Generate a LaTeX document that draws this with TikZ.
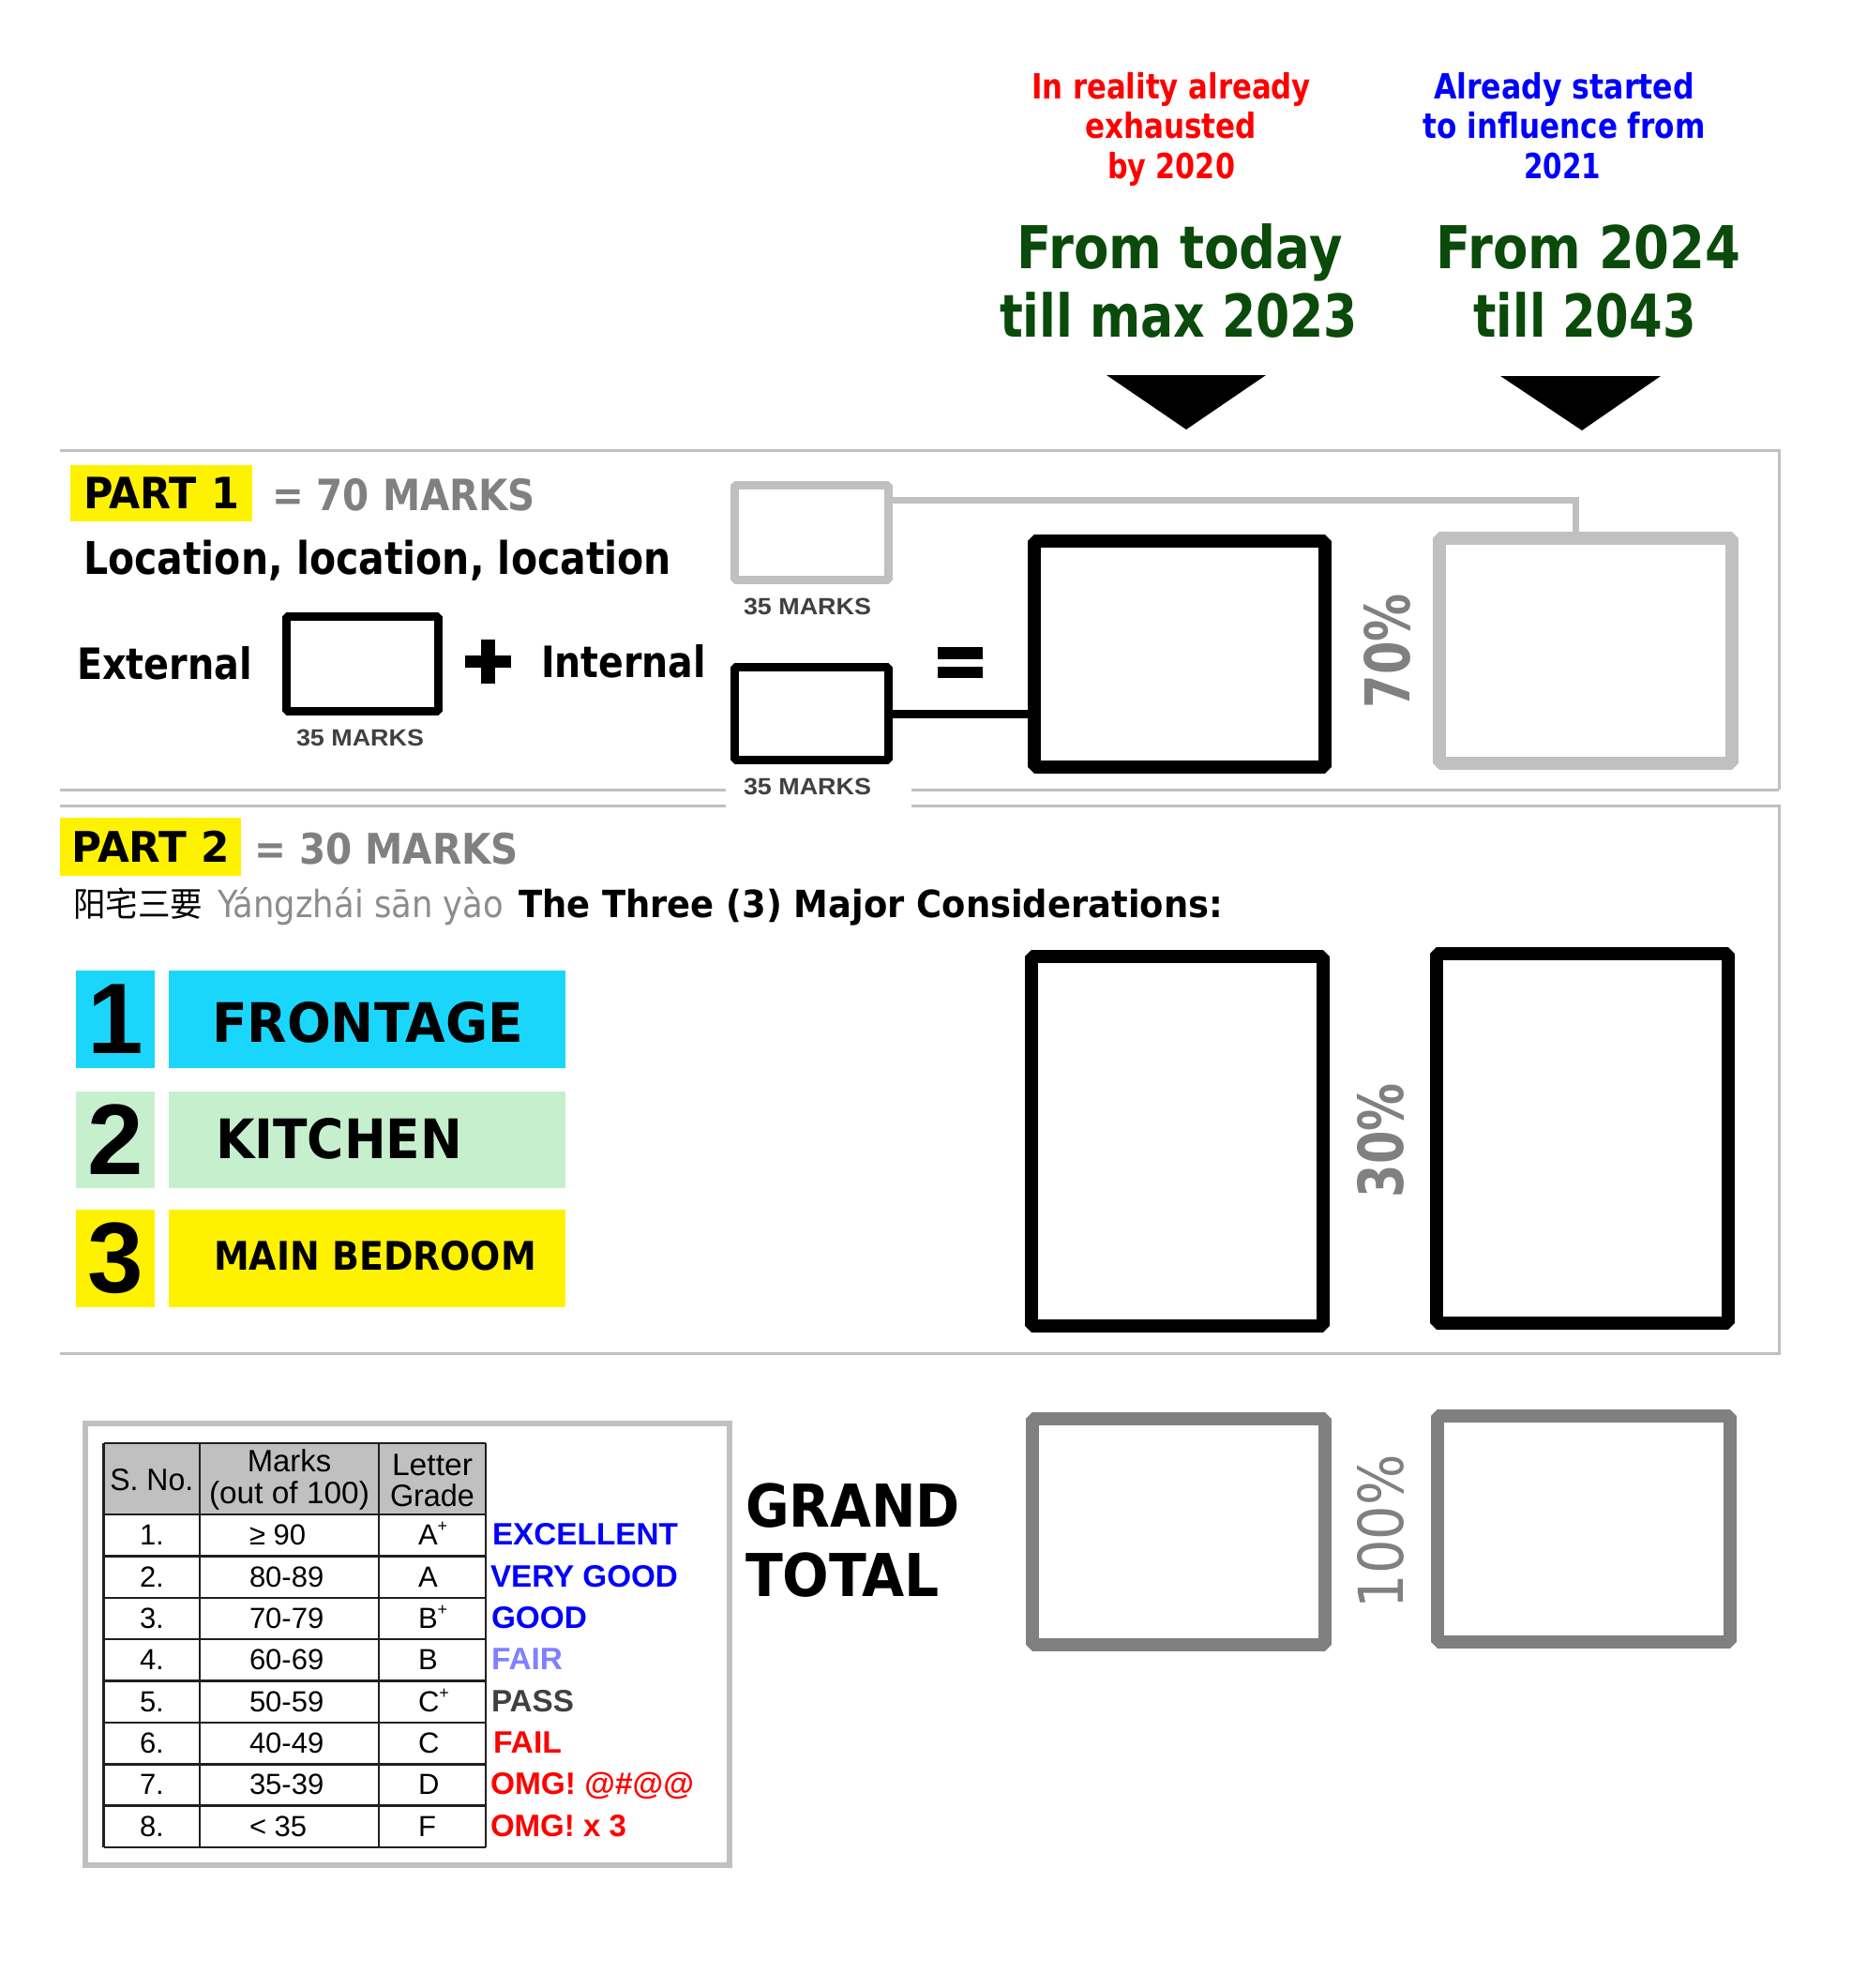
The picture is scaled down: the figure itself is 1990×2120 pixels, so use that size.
\documentclass[tikz,border=0pt]{standalone}
\usepackage{fontspec}
\usepackage{graphicx}
\setmainfont{Liberation Sans}
\newfontfamily\tah{DejaVu Sans}
\newfontfamily\ari{Liberation Sans}
\newfontfamily\cjk{Noto Sans CJK SC}
\newcommand\fs[1]{\fontsize{#1}{#1}\selectfont}
\newsavebox\fitsave
\newcommand\fitw[2]{\sbox\fitsave{#2}\edef\fitwd{\the\wd\fitsave}\pgfmathsetmacro\fitratio{#1/\fitwd}\scalebox{\fitratio}[1]{\usebox\fitsave}}
\newcommand\gradeplus{\raisebox{0.45em}{\fs{18}+}}
\definecolor{panelgray}{HTML}{C0C0C0}
\definecolor{midgray}{HTML}{808080}
\definecolor{darkgrayfour}{HTML}{404040}
\definecolor{dgreen}{HTML}{0A4A0A}
\definecolor{cyanbar}{HTML}{1AD6FC}
\definecolor{lgreen}{HTML}{C6EFCE}
\definecolor{fairblue}{HTML}{8080FF}
\definecolor{pinyin}{HTML}{8C8C8C}
\definecolor{gradeblue}{HTML}{0000FF}
\begin{document}
\begin{tikzpicture}[x=1pt,y=-1pt,
  t/.style={inner sep=0pt,outer sep=0pt},
  panel/.style={draw=panelgray,line width=3pt},
  bx/.style={draw,rectangle,inner sep=0pt,outer sep=0pt,line join=bevel},
  thinbx/.style={bx,line width=9pt},
  bigbx/.style={bx,line width=14pt},
  hl/.style={rectangle,inner sep=0pt,outer sep=0pt},
  gridln/.style={draw=black!88,line width=2.5pt},
  cell/.style={t,anchor=base west,font=\ari\fs{31}},
  hdr/.style={t,anchor=base,font=\ari\fs{33}},
  lbl/.style={t,anchor=base west,font=\ari\bfseries\fs{33}},
  marks/.style={t,anchor=base,text=darkgrayfour},
  pct/.style={t,rotate=90,text=midgray},
]
\useasboundingbox (0,0) rectangle (1990,2120);
\fill[white] (0,0) rectangle (1990,2120);

% ---------- top annotations ----------
\node[t,anchor=base,text=red] (red1) at (1249,105) {\tah\bfseries\fs{37}\fitw{298}{In reality already}};
\node[t,anchor=base,text=red] (red2) at (1248.5,147) {\tah\bfseries\fs{37}\fitw{183}{exhausted}};
\node[t,anchor=base,text=red] (red3) at (1249,190) {\tah\bfseries\fs{37}\fitw{136}{by 2020}};
\node[t,anchor=base,text=gradeblue] (blue1) at (1668,105) {\tah\bfseries\fs{37}\fitw{278}{Already started}};
\node[t,anchor=base,text=gradeblue] (blue2) at (1668,147) {\tah\bfseries\fs{37}\fitw{301}{to influence from}};
\node[t,anchor=base,text=gradeblue] (blue3) at (1666,190) {\tah\bfseries\fs{37}\fitw{82}{2021}};
\node[t,anchor=base,text=dgreen] (g1) at (1258,286) {\tah\bfseries\fs{63}\fitw{347}{From today}};
\node[t,anchor=base,text=dgreen] (g2) at (1257,359) {\tah\bfseries\fs{63}\fitw{382}{till max 2023}};
\node[t,anchor=base,text=dgreen] (g3) at (1694,286) {\tah\bfseries\fs{63}\fitw{325}{From 2024}};
\node[t,anchor=base,text=dgreen] (g4) at (1690,359) {\tah\bfseries\fs{63}\fitw{237}{till 2043}};
\fill (1180,400) -- (1350,400) -- (1265,458) -- cycle;
\fill (1600,401) -- (1771,401) -- (1687,459) -- cycle;

% ---------- panels ----------
\draw[panel] (64,480) -- (1897,480) -- (1897,842);
\draw[panel] (64,842) -- (774,842);
\draw[panel] (972,842) -- (1897,842);
\draw[panel] (64,859) -- (774,859);
\draw[panel] (972,859) -- (1897,859) -- (1897,1443) -- (64,1443);

% ---------- PART 1 ----------
\node[hl,fill=yellow,minimum width=194pt,minimum height=60pt] (part1) at (172,526) {\tah\bfseries\fs{46}\fitw{166}{PART 1}};
\node[t,anchor=base west,text=midgray] (p1marks) at (290,544) {\tah\bfseries\fs{46}\fitw{281}{= 70 MARKS}};
\node[t,anchor=base west] (loc) at (89,612) {\tah\bfseries\fs{48}\fitw{627}{Location, location, location}};
\node[t,anchor=base west] (extl) at (82,724) {\tah\bfseries\fs{46}\fitw{187}{External}};
\node[t,anchor=base west] (intl) at (577,722) {\tah\bfseries\fs{46}\fitw{176}{Internal}};
\fill (496,699) rectangle (545,712);
\fill (513,682) rectangle (528,729);
\fill (1000,690) rectangle (1048,702.7);
\fill (1000,710.7) rectangle (1048,723.3);

\node[thinbx,minimum width=162pt,minimum height=101pt] (ext) at (386.5,708) {};
\node[marks] (m1) at (384,795) {\ari\bfseries\fs{25}\fitw{136}{35 MARKS}};
\node[thinbx,draw=panelgray,minimum width=164pt,minimum height=101pt] (gsmall) at (865.5,568) {};
\node[marks] (m2) at (861,655) {\ari\bfseries\fs{25}\fitw{136}{35 MARKS}};
\node[thinbx,minimum width=164pt,minimum height=99pt] (bsmall) at (865.5,761) {};
\node[marks] (m3) at (861,847) {\ari\bfseries\fs{25}\fitw{136}{35 MARKS}};
\node[bigbx,minimum width=310pt,minimum height=241pt] (bigblk) at (1258,697.5) {};
\node[bigbx,draw=panelgray,minimum width=312pt,minimum height=240pt] (biggray) at (1691,694) {};
\coordinate (gbend) at (1680,533);
\draw[draw=panelgray,line width=7pt] (gsmall.east |- gbend) -- (gbend) -- (gbend |- biggray.north);
\draw[line width=9pt] (bsmall.east) -- (bsmall.east -| bigblk.west);
\node[pct] (p70) at (1479,694) {\tah\bfseries\fs{66}\fitw{122}{70\%}};

% ---------- PART 2 ----------
\node[hl,fill=yellow,minimum width=193pt,minimum height=62pt] (part2) at (160.5,903) {\tah\bfseries\fs{45}\fitw{169}{PART 2}};
\node[t,anchor=base west,text=midgray] (p2marks) at (271,921) {\tah\bfseries\fs{45}\fitw{282}{= 30 MARKS}};
\node[t,anchor=base west] (cn) at (78,977) {\cjk\fs{36}\fitw{138}{阳宅三要}};
\node[t,anchor=base west,text=pinyin] (py) at (232,978) {\tah\fs{40}\fitw{305}{Yángzhái sān yào}};
\node[t,anchor=base west] (three) at (553,978) {\tah\bfseries\fs{40}\fitw{751}{The Three (3) Major Considerations:}};

\node[hl,fill=cyanbar,minimum width=84pt,minimum height=104pt] (n1) at (123,1087) {\ari\bfseries\fs{107}1};
\node[hl,fill=cyanbar,minimum width=423pt,minimum height=104pt] (b1) at (391.5,1087) {};
\node[t,anchor=base west] (front) at (226,1111) {\tah\bfseries\fs{58}\fitw{332}{FRONTAGE}};
\node[hl,fill=lgreen,minimum width=84pt,minimum height=103pt] (n2) at (123,1215.5) {\ari\bfseries\fs{107}2};
\node[hl,fill=lgreen,minimum width=423pt,minimum height=103pt] (b2) at (391.5,1215.5) {};
\node[t,anchor=base west] (kitch) at (230,1235) {\tah\bfseries\fs{58}\fitw{263}{KITCHEN}};
\node[hl,fill=yellow,minimum width=84pt,minimum height=104pt] (n3) at (123,1342) {\ari\bfseries\fs{107}3};
\node[hl,fill=yellow,minimum width=423pt,minimum height=104pt] (b3) at (391.5,1342) {};
\node[t,anchor=base west] (bed) at (228,1354) {\tah\bfseries\fs{42}\fitw{344}{MAIN BEDROOM}};

\node[bigbx,minimum width=311pt,minimum height=394pt] (p2l) at (1255.5,1217) {};
\node[bigbx,minimum width=311pt,minimum height=394pt] (p2r) at (1687.5,1214) {};
\node[pct] (p30) at (1472,1216) {\tah\bfseries\fs{66}\fitw{122}{30\%}};

% ---------- GRAND TOTAL ----------
\node[t,anchor=base west] (grand) at (795,1628) {\tah\bfseries\fs{63}\fitw{229}{GRAND}};
\node[t,anchor=base west] (total) at (795,1702) {\tah\bfseries\fs{63}\fitw{207}{TOTAL}};
\node[bigbx,draw=midgray,minimum width=312pt,minimum height=241pt] (gtl) at (1257,1633.5) {};
\node[bigbx,draw=midgray,minimum width=312pt,minimum height=241pt] (gtr) at (1689,1630.5) {};
\node[pct] (p100) at (1472,1633) {\tah\fs{66}\fitw{164}{100\%}};

% ---------- grading table ----------
\node[draw=panelgray,line width=6pt,inner sep=0pt,minimum width=687pt,minimum height=471pt] (tblframe) at (434.5,1753.5) {};
\fill[panelgray] (110.5,1539) rectangle (518,1615);
\foreach \yy in {1539,1615,1659.375,1703.75,1748.125,1792.5,1836.875,1881.25,1925.625,1970}
  \draw[gridln] (110.5,\yy) -- (518,\yy);
\foreach \xx in {110.5,213,404,518}
  \draw[gridln] (\xx,1539) -- (\xx,1970);

\node[hdr] (hsno) at (161.75,1589) {\fitw{89}{S. No.}};
\node[hdr] (hmk1) at (308.5,1569) {\fitw{89.5}{Marks}};
\node[hdr] (hmk2) at (308.5,1603) {\fitw{171}{(out of 100)}};
\node[hdr] (hlg1) at (461,1573) {\fitw{86}{Letter}};
\node[hdr] (hlg2) at (461,1606) {\fitw{90}{Grade}};

\node[cell] (s1) at (149,1647.7) {1.};
\node[cell] (s2) at (149,1692.1) {2.};
\node[cell] (s3) at (149,1736.4) {3.};
\node[cell] (s4) at (149,1780.8) {4.};
\node[cell] (s5) at (149,1825.2) {5.};
\node[cell] (s6) at (149,1869.6) {6.};
\node[cell] (s7) at (149,1913.9) {7.};
\node[cell] (s8) at (149,1958.3) {8.};

\node[cell] (k1) at (266,1647.7) {≥ 90};
\node[cell] (k2) at (266,1692.1) {80-89};
\node[cell] (k3) at (266,1736.4) {70-79};
\node[cell] (k4) at (266,1780.8) {60-69};
\node[cell] (k5) at (266,1825.2) {50-59};
\node[cell] (k6) at (266,1869.6) {40-49};
\node[cell] (k7) at (266,1913.9) {35-39};
\node[cell] (k8) at (266,1958.3) {< 35};

\node[cell] (l1) at (446,1647.7) {A\gradeplus};
\node[cell] (l2) at (446,1692.1) {A};
\node[cell] (l3) at (446,1736.4) {B\gradeplus};
\node[cell] (l4) at (446,1780.8) {B};
\node[cell] (l5) at (446,1825.2) {C\gradeplus};
\node[cell] (l6) at (446,1869.6) {C};
\node[cell] (l7) at (446,1913.9) {D};
\node[cell] (l8) at (446,1958.3) {F};

\node[lbl,text=gradeblue] (w1) at (525,1647.7) {\fitw{198}{EXCELLENT}};
\node[lbl,text=gradeblue] (w2) at (523,1692.1) {\fitw{200}{VERY GOOD}};
\node[lbl,text=gradeblue] (w3) at (524,1736.4) {\fitw{102}{GOOD}};
\node[lbl,text=fairblue] (w4) at (524,1780.8) {\fitw{76}{FAIR}};
\node[lbl,text=darkgrayfour] (w5) at (524,1825.2) {\fitw{88}{PASS}};
\node[lbl,text=red] (w6) at (526,1869.6) {\fitw{73}{FAIL}};
\node[lbl,text=red] (w7) at (523,1913.9) {\fitw{217}{OMG! @\#@@}};
\node[lbl,text=red] (w8) at (523,1958.3) {\fitw{145}{OMG! x 3}};
\end{tikzpicture}
\end{document}
